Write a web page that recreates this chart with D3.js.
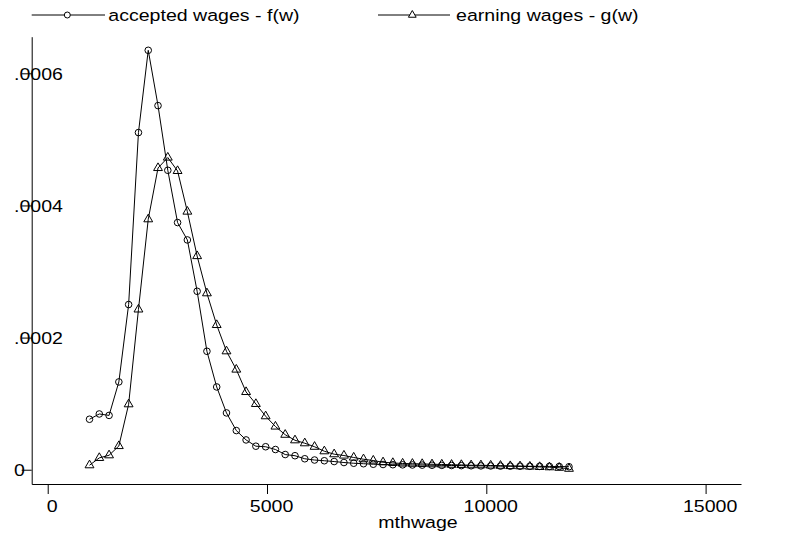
<!DOCTYPE html>
<html>
<head>
<meta charset="utf-8">
<script src="https://cdn.jsdelivr.net/npm/d3@7"></script>
<style>
  html, body { margin: 0; padding: 0; background: #fff; }
  svg { display: block; }
  text { font-family: "Liberation Sans", Arial, Helvetica, sans-serif; font-size: 16.3px; fill: #000; }
</style>
</head>
<body>
<svg id="chart" width="785" height="535"></svg>
<script>
// Monthly wage grid at which both kernel densities are evaluated
const wage = [953, 1176, 1399, 1622, 1845, 2069, 2292, 2515, 2738, 2961,
  3184, 3407, 3630, 3853, 4076, 4300, 4523, 4746, 4969, 5192,
  5415, 5638, 5861, 6084, 6307, 6531, 6754, 6977, 7200, 7423,
  7646, 7869, 8092, 8315, 8538, 8762, 8985, 9208, 9431, 9654,
  9877, 10100, 10323, 10546, 10769, 10993, 11216, 11439, 11662, 11885];

// f(w): density of accepted wages
const acceptedDensity = [0.0000764, 0.0000844, 0.0000822, 0.0001329, 0.000250, 0.0005103, 0.0006348, 0.0005511, 0.0004532, 0.0003741,
  0.0003478, 0.0002701, 0.0001793, 0.0001253, 0.0000860, 0.0000593, 0.0000451, 0.0000356, 0.0000348, 0.0000306,
  0.0000230, 0.0000212, 0.0000166, 0.0000147, 0.0000136, 0.0000124, 0.0000109, 0.0000098, 0.0000091, 0.0000083,
  0.0000079, 0.0000076, 0.0000074, 0.0000072, 0.0000070, 0.0000068, 0.0000066, 0.0000064, 0.0000062, 0.0000060,
  0.0000058, 0.0000057, 0.0000055, 0.0000054, 0.0000053, 0.0000052, 0.0000051, 0.0000050, 0.0000049, 0.0000045];

// g(w): density of earning wages
const earningDensity = [0.0000068, 0.0000179, 0.0000219, 0.0000359, 0.0000991, 0.0002426, 0.0003791, 0.0004567, 0.0004725, 0.0004522,
  0.0003907, 0.0003234, 0.0002671, 0.0002191, 0.0001793, 0.0001516, 0.0001177, 0.0000996, 0.0000810, 0.0000654,
  0.0000530, 0.0000446, 0.0000401, 0.0000348, 0.0000280, 0.0000235, 0.0000215, 0.0000185, 0.0000159, 0.0000139,
  0.0000113, 0.0000103, 0.0000094, 0.0000091, 0.0000088, 0.0000083, 0.0000080, 0.0000076, 0.0000073, 0.0000068,
  0.0000068, 0.0000064, 0.0000061, 0.0000056, 0.0000053, 0.0000048, 0.0000042, 0.0000038, 0.0000030, 0.0000015];

const seriesNames = ["accepted wages - f(w)", "earning wages - g(w)"];
const xTicks = [0, 5000, 10000, 15000];
const xTickLabels = ["0", "5000", "10000", "15000"];
const yTicks = [0, 0.0002, 0.0004, 0.0006];
const yTickLabels = ["0", ".0002", ".0004", ".0006"];
const xTitle = "mthwage";

const svg = d3.select("#chart");
const STRETCH = "scale(1.2,1)";

// Plot region
const plotLeft = 31.7, plotRight = 741, plotTop = 36.7, plotBottom = 484;

const x = d3.scaleLinear().domain([-365, 15807]).range([plotLeft, plotRight]);
const y = d3.scaleLinear().domain([-0.0000216, 0.0006554]).range([plotBottom, plotTop]);

// Axes
const xAxis = d3.axisBottom(x)
  .tickValues(xTicks)
  .tickFormat((d, i) => xTickLabels[i])
  .tickSize(10)
  .tickSizeOuter(0);

const yAxis = d3.axisLeft(y)
  .tickValues(yTicks)
  .tickFormat((d, i) => yTickLabels[i])
  .tickSize(10)
  .tickSizeOuter(0);

const gx = svg.append("g")
  .attr("transform", `translate(0,${plotBottom})`)
  .call(xAxis);
gx.selectAll("text")
  .attr("x", 0).attr("y", 0).attr("dy", "0.35em")
  .attr("text-anchor", "middle")
  .attr("transform", `translate(4,22) ${STRETCH}`);

const gy = svg.append("g")
  .attr("transform", `translate(${plotLeft},0)`)
  .call(yAxis);
gy.selectAll("text")
  .attr("x", 0).attr("dy", "0.35em")
  .attr("text-anchor", "start")
  .attr("transform", `translate(${14 - plotLeft},0) ${STRETCH}`);

svg.selectAll(".domain, .tick line")
  .attr("stroke", "#000")
  .attr("stroke-width", 1);
svg.selectAll("g").attr("font-size", null).attr("font-family", null);

// Axis title
svg.append("text")
  .attr("x", 0).attr("y", 0).attr("dy", "0.35em")
  .attr("text-anchor", "middle")
  .attr("transform", `translate(418,522) ${STRETCH}`)
  .text(xTitle);

// Series
const series = [
  { name: seriesNames[0], values: acceptedDensity, marker: "circle" },
  { name: seriesNames[1], values: earningDensity, marker: "triangle" }
];

const line = d3.line()
  .x((d, i) => x(wage[i]))
  .y(d => y(d));

const triPath = d3.symbol(d3.symbolTriangle, 34)();

function drawMarker(sel, kind) {
  if (kind === "circle") {
    sel.append("circle").attr("r", 3.3)
      .attr("fill", "none").attr("stroke", "#000").attr("stroke-width", 1);
  } else {
    sel.append("path").attr("d", triPath)
      .attr("fill", "none").attr("stroke", "#000").attr("stroke-width", 1);
  }
}

series.forEach(s => {
  const g = svg.append("g");
  g.append("path")
    .datum(s.values)
    .attr("fill", "none")
    .attr("stroke", "#000")
    .attr("stroke-width", 1)
    .attr("d", line);
  const pts = g.selectAll("g.pt")
    .data(s.values)
    .join("g")
    .attr("class", "pt")
    .attr("transform", (d, i) => `translate(${x(wage[i])},${y(d)})`);
  drawMarker(pts, s.marker);
});

// Legend
const legendItems = [
  { name: seriesNames[0], marker: "circle", x0: 31.7, x1: 105, mx: 67.3, tx: 108.3 },
  { name: seriesNames[1], marker: "triangle", x0: 378, x1: 450, mx: 412.3, tx: 456 }
];
const ly = 15;
legendItems.forEach(it => {
  const g = svg.append("g");
  g.append("line")
    .attr("x1", it.x0).attr("x2", it.x1)
    .attr("y1", ly).attr("y2", ly)
    .attr("stroke", "#000").attr("stroke-width", 1);
  const m = g.append("g").attr("transform", `translate(${it.mx},${ly})`);
  if (it.marker === "circle") {
    m.append("circle").attr("r", 3).attr("fill", "#fff").attr("stroke", "#000");
  } else {
    m.append("path").attr("d", d3.symbol(d3.symbolTriangle, 26)()).attr("fill", "#fff").attr("stroke", "#000");
  }
  g.append("text")
    .attr("x", 0).attr("y", 0).attr("dy", "0.35em")
    .attr("text-anchor", "start")
    .attr("transform", `translate(${it.tx},${ly}) ${STRETCH}`)
    .text(it.name);
});
</script>
</body>
</html>
